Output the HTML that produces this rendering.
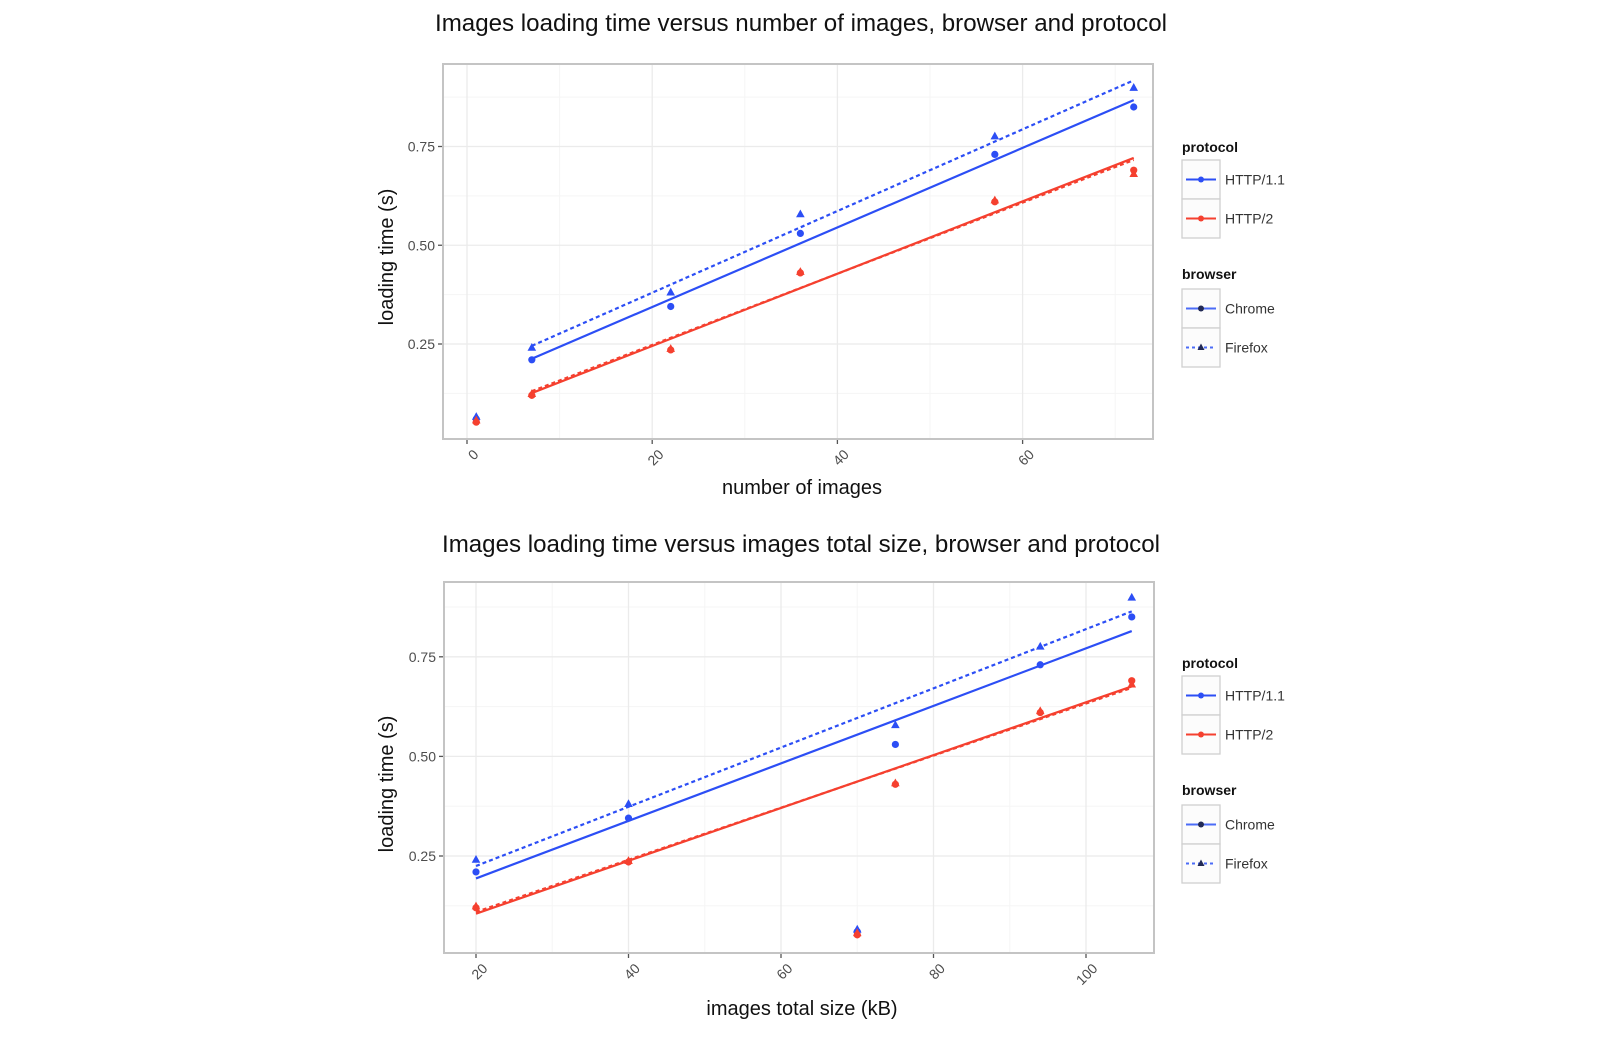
<!DOCTYPE html>
<html><head><meta charset="utf-8"><style>
html,body{margin:0;padding:0;background:#fff;}
svg{display:block;font-family:"Liberation Sans",sans-serif;}
</style></head><body>
<svg id="chart" width="1606" height="1040" viewBox="0 0 1606 1040"></svg>
<script>
const imageCounts = [1, 7, 22, 36, 57, 72];
const totalSizes = [70, 20, 40, 75, 94, 106];
const h11Chrome = [0.06, 0.21, 0.345, 0.53, 0.73, 0.85];
const h11Firefox = [0.065, 0.24, 0.38, 0.578, 0.775, 0.898];
const h2Chrome = [0.052, 0.12, 0.235, 0.43, 0.61, 0.69];
const h2Firefox = [0.056, 0.123, 0.237, 0.432, 0.613, 0.68];
const yTicks = [0.25, 0.5, 0.75];
const yTickLabels = ["0.25", "0.50", "0.75"];
const xTicksTop = [0, 20, 40, 60];
const xTicksBottom = [20, 40, 60, 80, 100];

const NS = "http://www.w3.org/2000/svg";
const svg = document.getElementById("chart");
function mk(tag, attrs, parent) {
  const e = document.createElementNS(NS, tag);
  for (const k in attrs) e.setAttribute(k, attrs[k]);
  (parent || svg).appendChild(e);
  return e;
}
function fit(xs, ys) {
  const X = xs.slice(1), Y = ys.slice(1);
  const n = X.length;
  const mx = X.reduce((a, b) => a + b, 0) / n, my = Y.reduce((a, b) => a + b, 0) / n;
  let sxy = 0, sxx = 0;
  for (let i = 0; i < n; i++) { sxy += (X[i] - mx) * (Y[i] - my); sxx += (X[i] - mx) ** 2; }
  const b = sxy / sxx;
  return { a: my - b * mx, b: b, x0: Math.min(...X), x1: Math.max(...X) };
}

function plot(cfg) {
  const g = mk("g", {});
  
  
  const P = cfg.panel;
  const xs = v => cfg.x0px + (v - cfg.x0) * cfg.xScale;
  const ys = v => cfg.y75 + (0.75 - v) * cfg.yScale;
  const title = mk("text", { x: cfg.titleX, y: cfg.titleY, "font-size": 24, "text-anchor": "middle", fill: "#111", textLength: cfg.titleLen, lengthAdjust: "spacingAndGlyphs" }, g);
  title.textContent = cfg.title;
  
  
  const bg = mk("rect", { x: P.l, y: P.t, width: P.r - P.l, height: P.b - P.t, fill: "#fff" }, g);
  
  
  const yMinor = [0.125, 0.375, 0.625, 0.875];
  yMinor.forEach(v => { const y = ys(v); if (y > P.t && y < P.b) mk("line", { x1: P.l, x2: P.r, y1: y, y2: y, stroke: "#f5f5f5", "stroke-width": 1 }, g); });
  cfg.xTicks.forEach(v => {
    const x = xs(v - 10);
    if (x > P.l && x < P.r) mk("line", { x1: x, x2: x, y1: P.t, y2: P.b, stroke: "#f5f5f5", "stroke-width": 1 }, g);
  });
  const lastMinor = xs(cfg.xTicks[cfg.xTicks.length - 1] + 10);
  if (lastMinor < P.r) mk("line", { x1: lastMinor, x2: lastMinor, y1: P.t, y2: P.b, stroke: "#f5f5f5", "stroke-width": 1 }, g);
  yTicks.forEach((v, i) => {
    const y = ys(v);
    const gl = mk("line", { x1: P.l, x2: P.r, y1: y, y2: y, stroke: "#ebebeb", "stroke-width": 1.3 }, g);
    
    
    mk("line", { x1: P.l - 5, x2: P.l, y1: y, y2: y, stroke: "#555", "stroke-width": 1.3 }, g);
    const t = mk("text", { x: P.l - 8, y: y + 5, "font-size": 14, "text-anchor": "end", fill: "#4d4d4d" }, g);
    t.textContent = yTickLabels[i];
    
    
  });
  cfg.xTicks.forEach(v => {
    const x = xs(v);
    const gl = mk("line", { x1: x, x2: x, y1: P.t, y2: P.b, stroke: "#ebebeb", "stroke-width": 1.3 }, g);
    
    
    mk("line", { x1: x, x2: x, y1: P.b, y2: P.b + 5, stroke: "#555", "stroke-width": 1.3 }, g);
    const t = mk("text", { x: x + 5, y: P.b + 9, "font-size": 14, "text-anchor": "end", fill: "#4d4d4d", transform: `rotate(-45 ${x + 5} ${P.b + 9})`, "dominant-baseline": "hanging" }, g);
    t.textContent = String(v);
    
    
  });
  mk("rect", { x: P.l, y: P.t, width: P.r - P.l, height: P.b - P.t, fill: "none", stroke: "#c4c4c4", "stroke-width": 2 }, g);
  const xl = mk("text", { x: cfg.xLabelX, y: cfg.xLabelY, "font-size": 20, "text-anchor": "middle", fill: "#111" }, g);
  xl.textContent = cfg.xLabel;
  
  
  const yl = mk("text", { x: 0, y: 0, "font-size": 20, "text-anchor": "middle", fill: "#111", transform: `translate(${cfg.yLabelX} ${cfg.yLabelY}) rotate(-90)` }, g);
  yl.textContent = "loading time (s)";
  
  

  const BLUE = "#2c4ef5", RED = "#f5402f";
  const series = [
    { v: h11Chrome, c: BLUE, dash: null, shape: "c", n: "http11-chrome" },
    { v: h11Firefox, c: BLUE, dash: "4,3", shape: "t", n: "http11-firefox" },
    { v: h2Chrome, c: RED, dash: null, shape: "c", n: "http2-chrome" },
    { v: h2Firefox, c: RED, dash: "4,3", shape: "t", n: "http2-firefox" }
  ];
  const xv = cfg.xs;
  series.forEach(s => {
    const f = fit(xv, s.v);
    const ln = mk("line", { x1: xs(f.x0), y1: ys(f.a + f.b * f.x0), x2: xs(f.x1), y2: ys(f.a + f.b * f.x1), stroke: s.c, "stroke-width": 2.2 }, g);
    if (s.dash) ln.setAttribute("stroke-dasharray", s.dash);
    
    
    s.v.forEach((v, i) => {
      const x = xs(xv[i]), y = ys(v);
      let m;
      if (s.shape === "c") m = mk("circle", { cx: x, cy: y, r: 3.6, fill: s.c }, g);
      else m = mk("polygon", { points: `${x},${y - 5} ${x - 4.3},${y + 2.8} ${x + 4.3},${y + 2.8}`, fill: s.c }, g);
      
      
    });
  });

  const L = cfg.legendY;
  const lg = mk("g", {}, g);
  
  
  const h1 = mk("text", { x: 1182, y: L + 5, "font-size": 14, "font-weight": "bold", fill: "#111" }, lg);
  h1.textContent = "protocol";
  const h2 = mk("text", { x: 1182, y: L + 132, "font-size": 14, "font-weight": "bold", fill: "#111" }, lg);
  h2.textContent = "browser";
  const entries = [
    { y: L + 13, c: BLUE, dot: BLUE, dash: null, tri: false, label: "HTTP/1.1" },
    { y: L + 52, c: RED, dot: RED, dash: null, tri: false, label: "HTTP/2" },
    { y: L + 142, c: "#4b6cf7", dot: "#222a55", dash: null, tri: false, label: "Chrome" },
    { y: L + 181, c: "#4b6cf7", dot: "#222a55", dash: "3,3", tri: true, label: "Firefox" }
  ];
  entries.forEach(e => {
    const eg = mk("g", {}, lg);
    
    
    mk("rect", { x: 1182, y: e.y, width: 38, height: 39, fill: "#fcfcfc", stroke: "#cfcfcf", "stroke-width": 1.3 }, eg);
    const cy = e.y + 19.5;
    const l = mk("line", { x1: 1186, x2: 1216, y1: cy, y2: cy, stroke: e.c, "stroke-width": 2 }, eg);
    if (e.dash) l.setAttribute("stroke-dasharray", e.dash);
    if (e.tri) mk("polygon", { points: `1201,${cy - 4} 1197.5,${cy + 2.5} 1204.5,${cy + 2.5}`, fill: e.dot }, eg);
    else mk("circle", { cx: 1201, cy: cy, r: 3, fill: e.dot }, eg);
    const t = mk("text", { x: 1225, y: cy + 5, "font-size": 14, fill: "#333" }, eg);
    t.textContent = e.label;
  });
}

plot({
  name: "plot-by-image-count", title: "Images loading time versus number of images, browser and protocol",
  titleX: 801, titleY: 31, titleLen: 732,
  panel: { l: 443, r: 1153, t: 64, b: 439 },
  xs: imageCounts, x0: 0, x0px: 467, xScale: 9.26, xTicks: xTicksTop,
  y75: 146.5, yScale: 395,
  xLabelX: 802, xLabelY: 494, xLabel: "number of images",
  yLabelX: 393, yLabelY: 257, legendY: 147
});
plot({
  name: "plot-by-total-size", title: "Images loading time versus images total size, browser and protocol",
  titleX: 801, titleY: 552, titleLen: 718,
  panel: { l: 444, r: 1154, t: 582, b: 953 },
  xs: totalSizes, x0: 20, x0px: 476, xScale: 7.625, xTicks: xTicksBottom,
  y75: 656.8, yScale: 398.4,
  xLabelX: 802, xLabelY: 1015, xLabel: "images total size (kB)",
  yLabelX: 393, yLabelY: 784, legendY: 663
});
</script>
</body></html>
